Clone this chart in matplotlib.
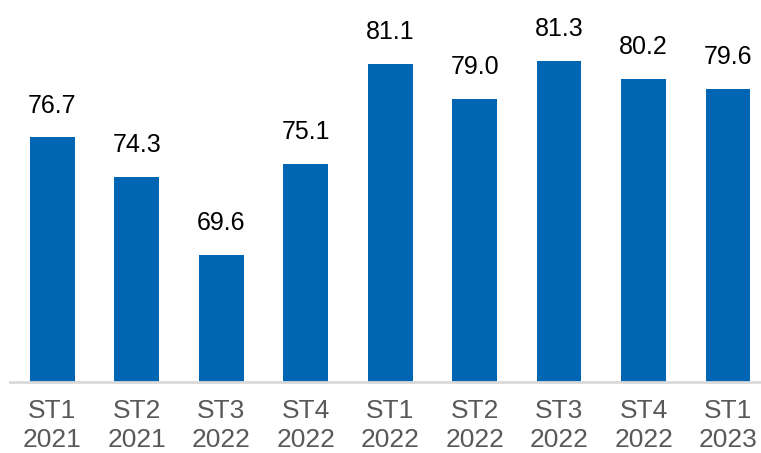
import matplotlib.pyplot as plt
import numpy as np

plt.rcParams['font.family'] = ['Liberation Sans', 'DejaVu Sans']

# datos
periodos = ["ST1\n2021", "ST2\n2021", "ST3\n2022", "ST4\n2022", "ST1\n2022",
            "ST2\n2022", "ST3\n2022", "ST4\n2022", "ST1\n2023"]
valores = [76.7, 74.3, 69.6, 75.1, 81.1, 79.0, 81.3, 80.2, 79.6]

fig = plt.figure(figsize=(7.61, 4.53), dpi=100)
ax = fig.add_axes([10/761, 71/453, 751/761, 382/453])

x = np.arange(len(valores))
ax.bar(x, valores, width=0.53, color='#0066B3', zorder=2)

for xi, v in zip(x, valores):
    ax.annotate(f"{v:.1f}", (xi, v), xytext=(0, 14), textcoords='offset points',
                ha='center', va='bottom', fontsize=18, color='black')

ax.set_xlim(-0.5, 8.39)
ax.set_ylim(61.95, 84.95)
ax.set_xticks(x)
ax.set_xticklabels(periodos, fontsize=19, color='#595959', linespacing=1.3)
ax.tick_params(axis='x', length=0, pad=12)
ax.set_yticks([])
for s in ['top', 'right', 'left']:
    ax.spines[s].set_visible(False)
ax.spines['bottom'].set_color('#d9d9d9')
ax.spines['bottom'].set_linewidth(2)

fig.savefig("out.png", dpi=100)
